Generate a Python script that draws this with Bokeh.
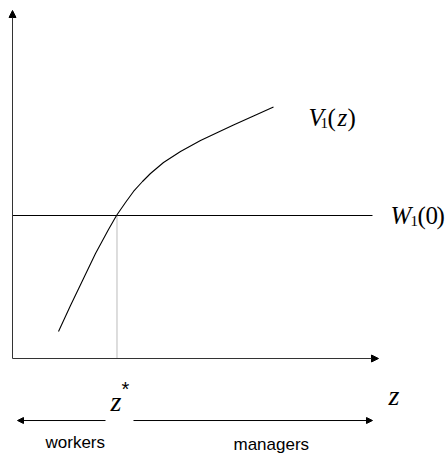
from bokeh.plotting import figure
from bokeh.models import Range1d, Arrow, NormalHead
from bokeh.core.properties import value
from bokeh.embed import file_html
from bokeh.resources import INLINE

# ---- data (abstract units; axes run 0..10) ----
curve_z = [1.257, 1.585, 1.940, 2.268, 2.623, 2.842, 3.087, 3.306, 3.552, 3.770,
           4.126, 4.590, 5.137, 5.601, 6.038, 6.585, 7.131]
curve_v = [0.776, 1.523, 2.299, 3.017, 3.707, 4.109, 4.483, 4.799, 5.086, 5.316,
           5.632, 5.948, 6.264, 6.494, 6.710, 6.968, 7.227]
w_level = 4.109
z_star = 2.855
axis_len = 10.0
w_end = 9.836
region_y = -1.782
left_arrow = [2.541, 0.137]
right_arrow = [3.306, 9.836]
region_labels = ["workers", "managers"]

SERIF = value("Liberation Serif")
SANS = value("Liberation Sans")

p = figure(width=446, height=459, output_backend="svg", toolbar_location=None,
           x_range=Range1d(-0.3279, 11.858), y_range=Range1d(-2.902, 10.287),
           min_border=0, x_axis_location=None, y_axis_location=None)
p.grid.visible = False
p.outline_line_color = None
p.background_fill_color = "white"
p.border_fill_color = "white"

# axes with arrows
for (x0, y0, x1, y1) in [(0, 0, 0, axis_len), (0, 0, axis_len, 0)]:
    p.add_layout(Arrow(end=NormalHead(size=7, fill_color="black", line_color="black", line_width=1),
                       x_start=x0, y_start=y0, x_end=x1, y_end=y1,
                       line_color="#333333", line_width=1))

# W1(0) horizontal line
p.line([0, w_end], [w_level, w_level], line_color="black", line_width=1)
# dotted vertical at z*
p.line([z_star, z_star], [0, w_level], line_color="#777777", line_width=1, line_dash="1 1")
# V1(z) curve
p.line(curve_z, curve_v, line_color="black", line_width=1.1)

# region arrows
for (a, b) in [left_arrow, right_arrow]:
    p.add_layout(Arrow(end=NormalHead(size=6, fill_color="black", line_color="black"),
                       x_start=a, y_start=region_y, x_end=b, y_end=region_y,
                       line_color="black", line_width=1))

def piece(x, y, txt, size, style="normal", font=SERIF, xo=0):
    p.text(x=[x], y=[y + 0.17], text=[txt], text_font=font, text_font_size=f"{size}px",
           text_font_style=style, text_color="black", text_baseline="alphabetic",
           text_align="left", x_offset=xo)

# V1(z)
vx, vy, vsub = 8.087, 6.753, 6.609
piece(vx, vy, "V", 25, "italic")
piece(vx, vsub, "1", 15, xo=12)
piece(vx, vy, "(", 25, xo=19)
piece(vx, vy, "z", 25, "italic", xo=29)
piece(vx, vy, ")", 25, xo=39)

# W1(0)
wx, wy, wsub = 10.328, 3.937, 3.793
piece(wx, wy, "W", 25, "italic")
piece(wx, wsub, "1", 15, xo=20)
piece(wx, wy, "(", 25, xo=27)
piece(wx, wy, "0", 25, xo=35)
piece(wx, wy, ")", 25, xo=46)

# z*
piece(2.678, -1.408, "z", 28, "italic")
piece(2.978, -1.034, "*", 20, font=SANS)
# z axis label
piece(10.273, -1.236, "z", 28, "italic")

# region labels
piece(0.902, -2.586, region_labels[0], 17, font=SANS)
piece(6.038, -2.644, region_labels[1], 17, font=SANS)

open("out.html", "w").write(file_html(p, INLINE))
